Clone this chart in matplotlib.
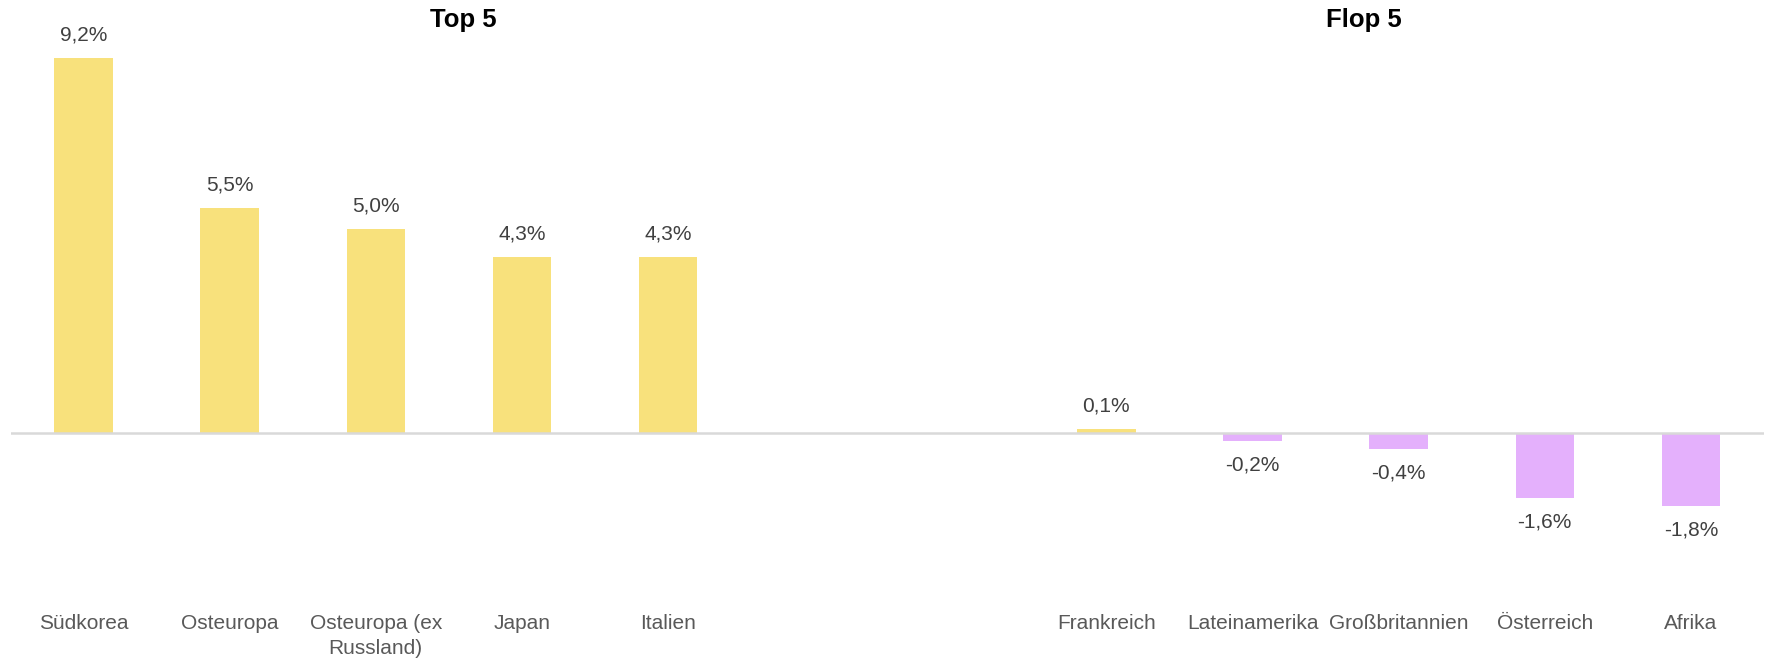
import matplotlib.pyplot as plt

# Data
top_labels = ["Südkorea", "Osteuropa", "Osteuropa (ex\nRussland)", "Japan", "Italien"]
top_values = [9.2, 5.5, 5.0, 4.3, 4.3]
flop_labels = ["Frankreich", "Lateinamerika", "Großbritannien", "Österreich", "Afrika"]
flop_values = [0.1, -0.2, -0.4, -1.6, -1.8]

YELLOW = "#F8E17C"
PURPLE = "#E4B0FC"

plt.rcParams['font.family'] = ['Liberation Sans', 'DejaVu Sans']

fig = plt.figure(figsize=(17.71, 6.58), dpi=100)
ax = fig.add_axes([10.5 / 1771, 63 / 658, 1753.5 / 1771, 575 / 658])

# two groups with a gap of two empty slots
labels = top_labels + flop_labels
values = top_values + flop_values
xs = list(range(len(top_values))) + [i + len(top_values) + 2 for i in range(len(flop_values))]
colors = [YELLOW if v >= 0 else PURPLE for v in values]

ax.bar(xs, values, width=0.4, color=colors, zorder=2)
ax.axhline(0, color="#D9D9D9", linewidth=1.8, zorder=3)

for x, v in zip(xs, values):
    txt = f"{v:.1f}%".replace(".", ",")
    off = 16.5 if v >= 0 else -17.5
    ax.annotate(txt, (x, v), xytext=(0, off), textcoords="offset points",
                ha="center", va="center", fontsize=15, color="#404040")

ax.set_xlim(-0.5, 11.5)
ax.set_ylim(-3.98, 10.12)
ax.set_xticks(xs)
ax.set_xticklabels(labels, fontsize=15, color="#595959", va="top", linespacing=1.35)
ax.tick_params(axis="x", length=0, pad=14)
ax.set_yticks([])
for s in ax.spines.values():
    s.set_visible(False)

fig.text(463 / 1771, 1 - 20 / 658, "Top 5", ha="center", va="center",
         fontsize=18.5, fontweight="bold", color="black")
fig.text(1364 / 1771, 1 - 20 / 658, "Flop 5", ha="center", va="center",
         fontsize=18.5, fontweight="bold", color="black")

fig.savefig("out.png", dpi=100)
